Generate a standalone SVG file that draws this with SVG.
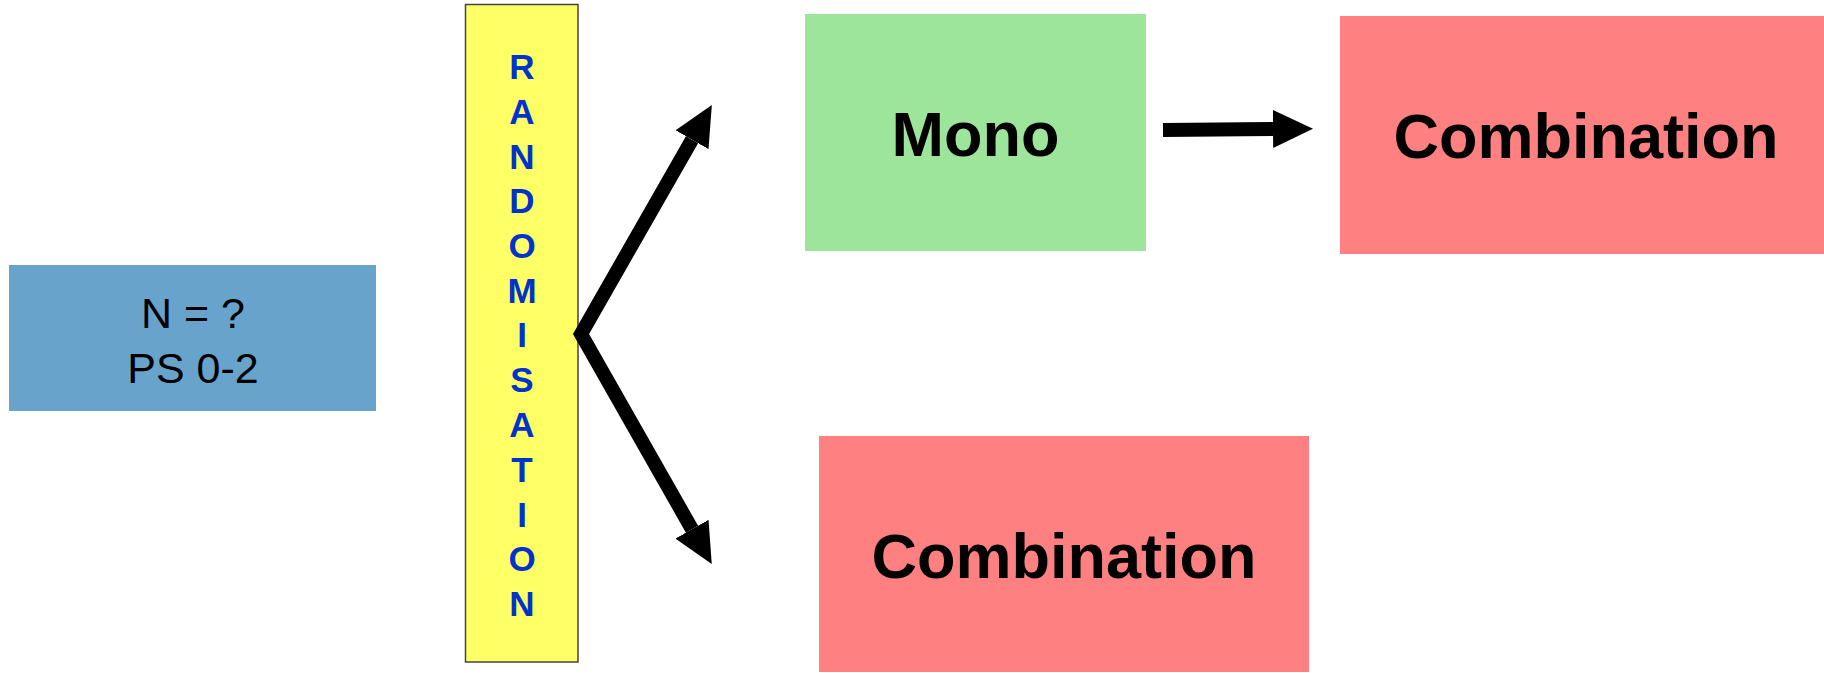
<svg xmlns="http://www.w3.org/2000/svg" width="1824" height="673" viewBox="0 0 1824 673">
  <style>
    .lbl { font-family: "Liberation Sans", Arial, sans-serif; fill: #000; text-anchor: middle; }
    .big { font-size: 63px; font-weight: bold; }
    .pop { font-size: 43px; }
    .rand { font-family: "Liberation Sans", Arial, sans-serif; font-size: 35px; font-weight: bold; fill: #0033CC; text-anchor: middle; }
    .wire { fill: none; stroke: #000; stroke-width: 14; stroke-linejoin: miter; stroke-miterlimit: 10; }
  </style>
  <defs>
    <marker id="head" markerUnits="userSpaceOnUse" markerWidth="40" markerHeight="38" refX="0" refY="19" orient="auto-start-reverse" viewBox="0 0 40 38">
      <path d="M0,0 L40,19 L0,38 z" fill="#000"/>
    </marker>
  </defs>

  <rect width="1824" height="673" fill="#fff"/>

  <g id="population">
    <rect x="9" y="265" width="367" height="146" fill="#67A3CB"/>
    <text class="lbl pop" x="193" y="328">N = ?</text>
    <text class="lbl pop" x="193" y="383">PS 0-2</text>
  </g>

  <g id="randomisation">
    <rect x="465.5" y="4.5" width="112.5" height="657.5" fill="#FFFF66" stroke="#444" stroke-width="1.5"/>
    <text class="rand" x="522" y="79">R</text>
    <text class="rand" x="522" y="124">A</text>
    <text class="rand" x="522" y="168.5">N</text>
    <text class="rand" x="522" y="213">D</text>
    <text class="rand" x="522" y="258">O</text>
    <text class="rand" x="522" y="303">M</text>
    <text class="rand" x="522" y="347">I</text>
    <text class="rand" x="522" y="392">S</text>
    <text class="rand" x="522" y="437">A</text>
    <text class="rand" x="522" y="481.5">T</text>
    <text class="rand" x="522" y="526.5">I</text>
    <text class="rand" x="522" y="571">O</text>
    <text class="rand" x="522" y="616">N</text>
  </g>

  <g id="mono">
    <rect x="805" y="14" width="341" height="237" fill="#9DE59B"/>
    <text class="lbl big" x="975.5" y="156">Mono</text>
  </g>

  <g id="combination-later">
    <rect x="1340" y="16" width="484" height="238" fill="#FF8080"/>
    <text class="lbl big" x="1586" y="158">Combination</text>
  </g>

  <g id="combination-direct">
    <rect x="819" y="436" width="490" height="236" fill="#FF8080"/>
    <text class="lbl big" x="1064" y="578">Combination</text>
  </g>

  <g id="connectors">
    <polyline class="wire" points="692,139.7 581,334 692,529.2" marker-start="url(#head)" marker-end="url(#head)"/>
    <line class="wire" x1="1163" y1="130" x2="1273" y2="129" marker-end="url(#head)"/>
  </g>
</svg>
